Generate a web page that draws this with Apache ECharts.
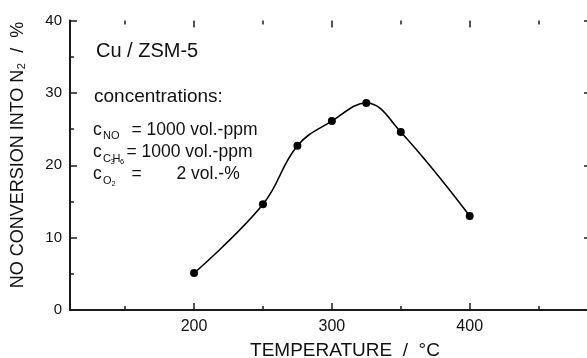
<!DOCTYPE html>
<html>
<head>
<meta charset="utf-8">
<script src="https://cdn.jsdelivr.net/npm/echarts@6/dist/echarts.min.js"></script>
<style>
html,body{margin:0;padding:0;background:#fff;}
#c{width:587px;height:358px;}
</style>
</head>
<body>
<div id="c"></div>
<script>
// ---- data ----
const temperatures = [200, 250, 275, 300, 325, 350, 400];
const conversion = [5.1, 14.6, 22.7, 26.1, 28.6, 24.6, 13.0];
const xRange = [110, 488];        // visible span of the plot box
const xMinorRange = [150, 450];   // span covered by minor ticks
const xMinorStep = 50;
const xMajorRange = [200, 400];   // span covered by labelled ticks
const xMajorStep = 100;
const yRange = [0, 40];
const yStep = 10;
const xTitle = 'TEMPERATURE  /  \u00B0C';
const yTitle = 'NO CONVERSION INTO N\u2082  /  %';
const catalystLabel = 'Cu / ZSM-5';
const concLabel = 'concentrations:';

const FONT = '"Liberation Sans", Arial, Helvetica, sans-serif';
const INK = '#111';
const AX = '#1a1a1a';

const chart = echarts.init(document.getElementById('c'), null, {renderer: 'canvas'});

function txt(text, x, baseline, size) {
  return {
    type: 'text', x: x, y: baseline - 0.35 * size, silent: true,
    style: {text: text, fontSize: size, fontFamily: FONT, fill: INK, align: 'left', verticalAlign: 'middle'}
  };
}

// pixel geometry of the plot box
const LEFT = 70, RIGHT_EDGE = 591, TOP = 20.5, BOTTOM = 48;
const pxPerUnit = (RIGHT_EDGE - LEFT) / (xRange[1] - xRange[0]);
function subGrid(r) {
  return {
    left: LEFT + (r[0] - xRange[0]) * pxPerUnit, width: (r[1] - r[0]) * pxPerUnit,
    top: TOP, bottom: BOTTOM, containLabel: false, outerBoundsMode: 'none'
  };
}

const hiddenY = (gi) => ({type: 'value', gridIndex: gi, min: yRange[0], max: yRange[1], show: false});
function tickX(gi, pos, r, step, len, labels) {
  return {
    type: 'value', gridIndex: gi, position: pos, min: r[0], max: r[1], interval: step,
    axisLine: {show: false},
    axisTick: {show: true, inside: true, length: len, lineStyle: {color: AX, width: 1.5}},
    axisLabel: labels ? {show: true, fontSize: 16, fontFamily: FONT, color: INK, margin: 9} : {show: false},
    splitLine: {show: false}
  };
}
function yAxisDef(pos, labels) {
  return {
    type: 'value', gridIndex: 0, position: pos, min: yRange[0], max: yRange[1], interval: yStep,
    axisLine: {show: true, lineStyle: {color: AX, width: 2}},
    axisTick: {show: true, inside: true, length: 7, lineStyle: {color: AX, width: 1.5}},
    minorTick: {show: true, splitNumber: 2, length: 4, lineStyle: {color: AX, width: 1.5}},
    axisLabel: labels ? {show: true, fontSize: 15, fontFamily: FONT, color: INK, margin: 8} : {show: false},
    splitLine: {show: false}, minorSplitLine: {show: false}
  };
}
function frameX(pos) {
  return {
    type: 'value', gridIndex: 0, position: pos, min: xRange[0], max: xRange[1],
    axisLine: {show: true, lineStyle: {color: AX, width: 2}},
    axisTick: {show: false}, axisLabel: {show: false}, splitLine: {show: false}
  };
}

const option = {
  animation: false,
  backgroundColor: '#fff',
  grid: [
    subGrid(xRange),
    subGrid(xMinorRange),
    subGrid(xMajorRange)
  ],
  xAxis: [
    frameX('bottom'), frameX('top'),
    tickX(1, 'bottom', xMinorRange, xMinorStep, 4, false),
    tickX(1, 'top', xMinorRange, xMinorStep, 4, false),
    tickX(2, 'bottom', xMajorRange, xMajorStep, 7, true),
    tickX(2, 'top', xMajorRange, xMajorStep, 7, false)
  ],
  yAxis: [yAxisDef('left', true), yAxisDef('right', false), hiddenY(1), hiddenY(2)],
  series: [{
    type: 'line', xAxisIndex: 0, yAxisIndex: 0,
    data: temperatures.map((t, i) => [t, conversion[i]]),
    smooth: 0.4,
    symbol: 'circle', symbolSize: 8, showSymbol: true,
    lineStyle: {color: '#000', width: 1.6},
    itemStyle: {color: '#000'}
  }],
  graphic: [
    txt(catalystLabel, 96, 58.3, 20),
    txt(concLabel, 94, 103, 19),
    txt('c', 93, 136, 17.5), txt('NO', 103, 139.5, 11), txt('= 1000 vol.-ppm', 131.5, 136, 17.5),
    txt('c', 93, 158.3, 17.5), txt('C', 103, 163, 11), txt('3', 110.5, 165, 7.5),
    txt('H', 112.5, 163, 11), txt('6', 120, 165, 7.5), txt('= 1000 vol.-ppm', 126.5, 158.3, 17.5),
    txt('c', 93, 180, 17.5), txt('O', 103, 185, 11), txt('2', 111.5, 186.5, 7.5),
    txt('=', 131.5, 180, 17.5), txt('2 vol.-%', 176.5, 180, 17.5),
    {type: 'text', x: 345, y: 357.3 - 0.35 * 19, silent: true,
     style: {text: xTitle, fontSize: 19, fontFamily: FONT, fill: INK, align: 'center', verticalAlign: 'middle'}},
    {type: 'text', x: 18, y: 155, rotation: Math.PI / 2, silent: true,
     style: {text: yTitle, fontSize: 18, fontFamily: FONT, fill: INK, align: 'center', verticalAlign: 'middle'}}
  ]
};
chart.setOption(option);
</script>
</body>
</html>
